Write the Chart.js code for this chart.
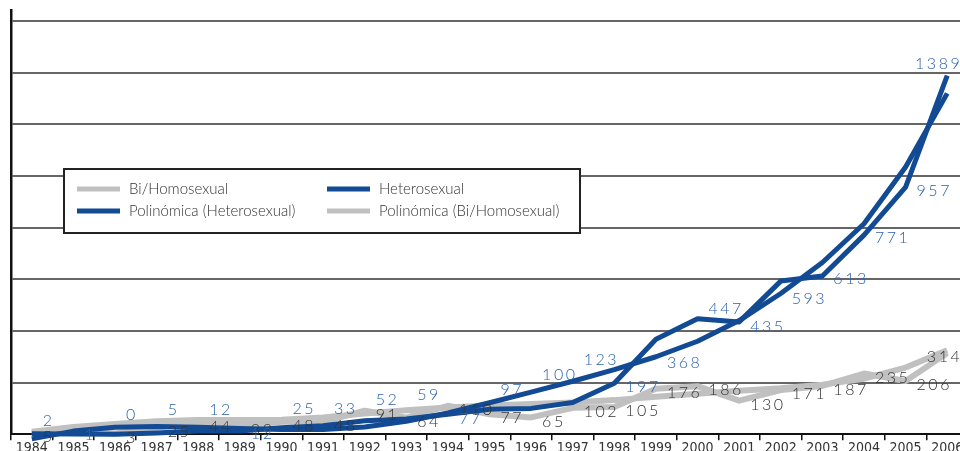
<!DOCTYPE html>
<html>
<head>
<meta charset="utf-8">
<script src="https://cdn.jsdelivr.net/npm/chart.js@4.4.1/dist/chart.umd.min.js"></script>
<style>
html, body { margin: 0; padding: 0; background: #fff; overflow: hidden; }
#wrap { width: 970px; height: 457px; position: relative; }
</style>
</head>
<body>
<div id="wrap"><canvas id="chart"></canvas></div>
<script>
const years = ['1984', '1985', '1986', '1987', '1988', '1989', '1990', '1991', '1992', '1993', '1994', '1995',
    '1996', '1997', '1998', '1999', '2000', '2001', '2002', '2003', '2004', '2005', '2006'];
const biHomo = [5, 12, 3, 25, 44, 32, 48, 48, 91, 64, 110, 77, 65, 102, 105, 176, 186, 130, 171, 187, 235, 206, 314];
const hetero = [2, 1, 0, 5, 12, 12, 25, 33, 52, 59, 77, 97, 100, 123, 197, 368, 447, 435, 593, 613, 771, 957, 1389];
const polyHetero = [-18, 12, 27, 30, 27, 22, 18, 18, 28, 50, 82, 122, 163, 205, 250, 300, 360, 440, 545, 665, 815, 1035, 1320];
const polyBiHomo = [10, 28, 40, 50, 55, 55, 56, 65, 80, 93, 103, 111, 117, 123, 132, 145, 157, 168, 178, 192, 215, 258, 325];
const yTicks = [0, 200, 400, 600, 800, 1000, 1200, 1400, 1600];

// the labels in the original were nudged by hand, keep those nudges here
const heteroLabelDy = [-13, 1, -19, -23, -21, 3, -19, -17, -21, -24, 5, -19, -34, -43, 4, 24, -10, 5, 18, 3, 3, 4, -12];
const hiddenBiHomoLabels = [1];

const BLUE = '#124a93';
const GRAY = '#c0c0c0';

const valueLabels = {
    id: 'valueLabels',
    afterDatasetsDraw(chart) {
        const ctx = chart.ctx;
        ctx.save();
        ctx.font = '300 16px Lato, "Open Sans", sans-serif';
        ctx.letterSpacing = '2.5px';
        ctx.textBaseline = 'middle';
        const sets = [
            { idx: 0, color: '#333', dy: () => 4 },
            { idx: 1, color: '#2c62ad', dy: j => heteroLabelDy[j] }
        ];
        sets.forEach(s => {
            const values = chart.data.datasets[s.idx].data;
            chart.getDatasetMeta(s.idx).data.forEach((pt, j) => {
                if (s.idx === 0 && hiddenBiHomoLabels.includes(j)) return;
                ctx.fillStyle = s.color;
                const last = j === values.length - 1;
                ctx.textAlign = last ? 'right' : 'left';
                ctx.fillText(String(values[j]), pt.x + (last ? 15 : 11), pt.y + s.dy(j));
            });
        });
        ctx.restore();
    }
};

const boxLegend = {
    id: 'boxLegend',
    afterDraw(chart) {
        const ctx = chart.ctx;
        const ds = chart.data.datasets;
        const x0 = 64, y0 = 169, w = 516, h = 64;
        ctx.save();
        ctx.fillStyle = '#fff';
        ctx.fillRect(x0, y0, w, h);
        ctx.strokeStyle = '#222';
        ctx.lineWidth = 2;
        ctx.strokeRect(x0, y0, w, h);
        ctx.font = '300 15px Lato, "Open Sans", sans-serif';
        ctx.textBaseline = 'middle';
        ctx.textAlign = 'left';
        const items = [
            { d: ds[0], x: 77, y: 189 },
            { d: ds[1], x: 327, y: 189 },
            { d: ds[2], x: 77, y: 211 },
            { d: ds[3], x: 327, y: 211 }
        ];
        items.forEach(it => {
            ctx.strokeStyle = it.d.borderColor;
            ctx.lineWidth = 5;
            ctx.beginPath();
            ctx.moveTo(it.x, it.y);
            ctx.lineTo(it.x + 43, it.y);
            ctx.stroke();
            ctx.fillStyle = '#333';
            ctx.fillText(it.d.label, it.x + 52, it.y);
        });
        ctx.restore();
    }
};

new Chart(document.getElementById('chart'), {
    type: 'line',
    data: {
        labels: years,
        datasets: [
            { label: 'Bi/Homosexual', data: biHomo, borderColor: GRAY, borderWidth: 6, order: 4 },
            { label: 'Heterosexual', data: hetero, borderColor: BLUE, borderWidth: 5, order: 1 },
            { label: 'Polinómica (Heterosexual)', data: polyHetero, borderColor: BLUE, borderWidth: 5, order: 2 },
            { label: 'Polinómica (Bi/Homosexual)', data: polyBiHomo, borderColor: GRAY, borderWidth: 6, order: 3 }
        ]
    },
    options: {
        responsive: true,
        maintainAspectRatio: false,
        animation: false,
        layout: { padding: { left: 11, right: 2, top: 10 } },
        elements: {
            point: { radius: 0 },
            line: { tension: 0, borderJoinStyle: 'round', borderCapStyle: 'butt' }
        },
        datasets: { line: { clip: false } },
        plugins: { legend: { display: false }, tooltip: { enabled: false } },
        scales: {
            x: {
                offset: true,
                grid: { display: true, drawOnChartArea: false, drawTicks: true, tickLength: 6, color: '#111', lineWidth: 1.5, offset: true },
                border: { display: true, color: '#111', width: 2 },
                ticks: {
                    font: { family: '"Liberation Sans Narrow", "DejaVu Sans Condensed", sans-serif', size: 14 },
                    color: '#333',
                    padding: 0,
                    maxRotation: 0,
                    autoSkip: false
                }
            },
            y: {
                min: 0,
                max: 1643,
                afterBuildTicks: axis => { axis.ticks = yTicks.map(v => ({ value: v })); },
                grid: { color: '#666', lineWidth: 2, drawTicks: false },
                border: { display: true, color: '#111', width: 2.5 },
                ticks: { display: false }
            }
        }
    },
    plugins: [valueLabels, boxLegend]
});
</script>
</body>
</html>
